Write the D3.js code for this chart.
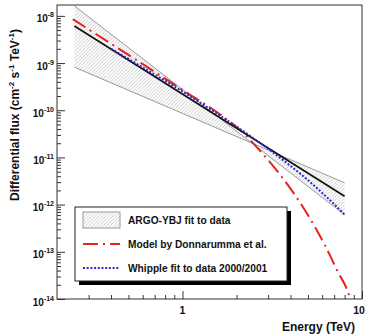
<!DOCTYPE html>
<html>
<head>
<meta charset="utf-8">
<script src="https://cdn.jsdelivr.net/npm/d3@7"></script>
<style>
  html, body { margin: 0; padding: 0; background: #fff; }
  svg { display: block; font-family: "Liberation Sans", Arial, Helvetica, sans-serif; font-weight: bold; }
</style>
</head>
<body>
<svg id="chart" width="366" height="336"></svg>
<script>
// Spectral fits and model, energies in TeV, flux in cm^-2 s^-1 TeV^-1
const argoFit = [[0.25, 6.1e-9], [8, 1.5e-12]];
const argoBandSteep = [[0.25, 1.63e-8], [8, 6.1e-13]];
const argoBandFlat = [[0.25, 8.2e-10], [8, 2.9e-12]];
const donnarummaModel = [
  [0.245, 8.5e-9], [1, 2.7e-10], [1.67, 7.5e-11], [2.22, 3.1e-11], [2.59, 1.66e-11],
  [3.48, 4.4e-12], [4.8, 7.7e-13], [6.2, 1.4e-13], [7.25, 4.1e-14], [8.6, 1.0e-14], [8.9, 6e-15]
];
const whippleFit = [
  [0.4, 2.0e-9], [0.6, 8.1e-10], [1, 2.5e-10], [1.5, 9.3e-11], [2, 4.5e-11], [3, 1.52e-11],
  [4, 6.6e-12], [5, 3.3e-12], [6, 1.77e-12], [7, 1.02e-12], [8, 6.1e-13]
];
const yTickExponents = [-14, -13, -12, -11, -10, -9, -8];
const xTickLabels = [1, 10];
const legendLabels = ["ARGO-YBJ fit to data", "Model by Donnarumma et al.", "Whipple fit to data 2000/2001"];

const svg = d3.select("#chart");
const frame = { left: 57, right: 362, top: 5, bottom: 299 };

const x = d3.scaleLog().domain([0.2, 10]).range([frame.left, frame.right]);
const y = d3.scaleLog().domain([1e-14, 1.7e-8]).range([frame.bottom, frame.top]);

const defs = svg.append("defs");
const hatch = defs.append("pattern")
  .attr("id", "hatch").attr("patternUnits", "userSpaceOnUse")
  .attr("width", 3.5).attr("height", 3.5);
hatch.append("path")
  .attr("d", "M-1,1 l2,-2 M0,3.5 l3.5,-3.5 M2.5,4.5 l2,-2")
  .attr("stroke", "#b4b4b4").attr("stroke-width", 0.7);
defs.append("clipPath").attr("id", "plotClip")
  .append("rect")
  .attr("x", frame.left).attr("y", frame.top)
  .attr("width", frame.right - frame.left).attr("height", frame.bottom - frame.top);

const line = d3.line().x(d => x(d[0])).y(d => y(d[1]));
const smooth = d3.line().x(d => x(d[0])).y(d => y(d[1])).curve(d3.curveMonotoneX);

const plot = svg.append("g").attr("clip-path", "url(#plotClip)");

// ARGO-YBJ uncertainty bow-tie
const bandPoly = [...argoBandSteep, ...argoBandFlat.slice().reverse()];
plot.append("path")
  .attr("d", line(bandPoly) + "Z")
  .attr("fill", "url(#hatch)").attr("stroke", "none");
[argoBandSteep, argoBandFlat].forEach(edge => {
  plot.append("path").attr("d", line(edge))
    .attr("fill", "none").attr("stroke", "#999").attr("stroke-width", 1);
});

// Donnarumma et al. model
plot.append("path").attr("d", smooth(donnarummaModel))
  .attr("fill", "none").attr("stroke", "#e8221b").attr("stroke-width", 2)
  .attr("stroke-dasharray", "15,5,2,5");

// ARGO-YBJ best fit
plot.append("path").attr("d", line(argoFit))
  .attr("fill", "none").attr("stroke", "#111").attr("stroke-width", 1.7);

// Whipple fit
plot.append("path").attr("d", smooth(whippleFit))
  .attr("fill", "none").attr("stroke", "#2a2ad0").attr("stroke-width", 2)
  .attr("stroke-dasharray", "2,1.7");

// Frame
svg.append("rect")
  .attr("x", frame.left).attr("y", frame.top)
  .attr("width", frame.right - frame.left).attr("height", frame.bottom - frame.top)
  .attr("fill", "none").attr("stroke", "#333").attr("stroke-width", 1);

// Y axis ticks (drawn inside the frame)
const yMajors = yTickExponents.map(e => Math.pow(10, e));
const yMinors = [];
yTickExponents.forEach(e => {
  for (let m = 2; m <= 9; m++) {
    const v = m * Math.pow(10, e);
    if (v <= y.domain()[1]) yMinors.push(v);
  }
});
const styleAxis = g => {
  g.select(".domain").remove();
  g.selectAll(".tick line").attr("stroke", "#333");
};
svg.append("g").attr("transform", `translate(${frame.left},0)`)
  .call(d3.axisLeft(y).tickValues(yMajors).tickSize(-8).tickSizeOuter(0).tickFormat(""))
  .call(styleAxis);
svg.append("g").attr("transform", `translate(${frame.left},0)`)
  .call(d3.axisLeft(y).tickValues(yMinors).tickSize(-4).tickSizeOuter(0).tickFormat(""))
  .call(styleAxis);

// Y tick labels: 10 with exponent superscript
yTickExponents.forEach(e => {
  const t = svg.append("text")
    .attr("x", 54).attr("y", y(Math.pow(10, e)) + 6.5)
    .attr("text-anchor", "end").attr("font-size", 10).attr("fill", "#111");
  t.append("tspan").text("10");
  t.append("tspan").attr("dy", -5).attr("font-size", 7).text(String(e));
});

// X axis ticks
const xMajors = [1, 10];
const xMinors = [0.3, 0.4, 0.5, 0.6, 0.7, 0.8, 0.9, 2, 3, 4, 5, 6, 7, 8, 9];
svg.append("g").attr("transform", `translate(0,${frame.bottom})`)
  .call(d3.axisBottom(x).tickValues(xMajors).tickSize(-8).tickSizeOuter(0).tickFormat(""))
  .call(styleAxis);
svg.append("g").attr("transform", `translate(0,${frame.bottom})`)
  .call(d3.axisBottom(x).tickValues(xMinors).tickSize(-4).tickSizeOuter(0).tickFormat(""))
  .call(styleAxis);
xTickLabels.forEach(v => {
  svg.append("text")
    .attr("x", Math.min(x(v), 359)).attr("y", frame.bottom + 15)
    .attr("text-anchor", "middle").attr("font-size", 10.5).attr("fill", "#111")
    .text(v);
});

// Axis titles
svg.append("text")
  .attr("x", 355).attr("y", 331)
  .attr("text-anchor", "end").attr("font-size", 12).attr("fill", "#111")
  .text("Energy (TeV)");

const yTitle = svg.append("text")
  .attr("transform", "translate(19,115) rotate(-90)")
  .attr("text-anchor", "middle").attr("font-size", 12).attr("fill", "#111");
yTitle.append("tspan").text("Differential flux (cm");
yTitle.append("tspan").attr("dy", -5).attr("font-size", 8).text("-2");
yTitle.append("tspan").attr("dy", 5).text(" s");
yTitle.append("tspan").attr("dy", -5).attr("font-size", 8).text("-1");
yTitle.append("tspan").attr("dy", 5).text(" TeV");
yTitle.append("tspan").attr("dy", -5).attr("font-size", 8).text("-1");
yTitle.append("tspan").attr("dy", 5).text(")");

// Legend with drop shadow
const lg = { x: 75, y: 207, w: 212, h: 74 };
svg.append("rect").attr("x", lg.x + 4).attr("y", lg.y + 4)
  .attr("width", lg.w).attr("height", lg.h).attr("fill", "#000");
svg.append("rect").attr("x", lg.x).attr("y", lg.y)
  .attr("width", lg.w).attr("height", lg.h)
  .attr("fill", "#fff").attr("stroke", "#222").attr("stroke-width", 1);

const rowY = [220, 244, 268];
svg.append("rect").attr("x", 83).attr("y", rowY[0] - 8).attr("width", 37).attr("height", 16)
  .attr("fill", "url(#hatch)").attr("stroke", "#999").attr("stroke-width", 1);
svg.append("line").attr("x1", 83).attr("x2", 120).attr("y1", rowY[1]).attr("y2", rowY[1])
  .attr("stroke", "#e8221b").attr("stroke-width", 2).attr("stroke-dasharray", "15,5,2,5");
svg.append("line").attr("x1", 83).attr("x2", 120).attr("y1", rowY[2]).attr("y2", rowY[2])
  .attr("stroke", "#2a2ad0").attr("stroke-width", 2).attr("stroke-dasharray", "2,1.7");
legendLabels.forEach((label, i) => {
  svg.append("text").attr("x", 128).attr("y", rowY[i] + 3.6)
    .attr("font-size", 10.2).attr("fill", "#111").text(label);
});
</script>
</body>
</html>
